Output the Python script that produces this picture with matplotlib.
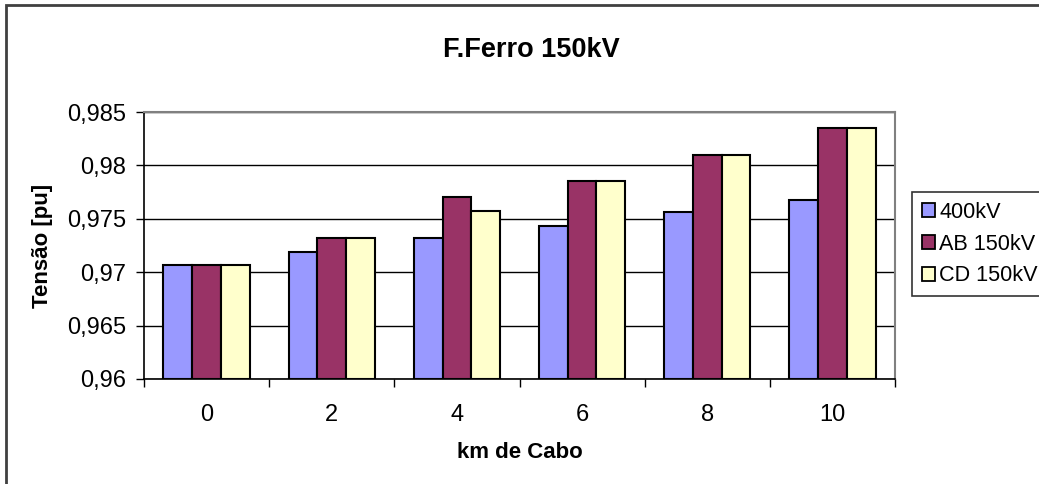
import numpy as np
import matplotlib
matplotlib.use("Agg")
import matplotlib.pyplot as plt
from matplotlib.patches import Rectangle
from matplotlib.ticker import FixedLocator, FuncFormatter, NullFormatter

plt.rcParams['font.family'] = ['Liberation Sans', 'DejaVu Sans']

km = ['0', '2', '4', '6', '8', '10']
v_400 = [0.9707, 0.9719, 0.9732, 0.9743, 0.9756, 0.9768]
v_ab = [0.9707, 0.9732, 0.9770, 0.9785, 0.9810, 0.9835]
v_cd = [0.9707, 0.9732, 0.9757, 0.9785, 0.9810, 0.9835]
series = ['400kV', 'AB 150kV', 'CD 150kV']
colors = ['#9999FF', '#993366', '#FFFFCC']

fig = plt.figure(figsize=(10.39, 4.84), dpi=100)
ax = fig.add_axes([144/1039, 1 - 379/484, 751/1039, 267/484])

x = np.arange(len(km)) + 0.5
w = 0.23
for k, (vals, name, c) in enumerate(zip([v_400, v_ab, v_cd], series, colors)):
    ax.bar(x + (k - 1) * w, np.array(vals) - 0.96, width=w, bottom=0.96,
           color=c, edgecolor='black', linewidth=1.5, label=name, zorder=3)

ax.set_xlim(0, len(km))
ax.set_ylim(0.96, 0.985)
ax.set_yticks(np.arange(0.96, 0.9851, 0.005))
ax.yaxis.set_major_formatter(FuncFormatter(lambda v, p: f"{round(v, 3):g}".replace('.', ',')))
ax.grid(axis='y', color='black', linewidth=1, zorder=0)

# category ticks at group boundaries, labels at group centres
ax.xaxis.set_major_locator(FixedLocator(np.arange(len(km) + 1)))
ax.xaxis.set_major_formatter(NullFormatter())
ax.xaxis.set_minor_locator(FixedLocator(x))
ax.set_xticklabels(km, minor=True)
ax.tick_params(axis='x', which='major', direction='out', length=6, width=1)
ax.tick_params(axis='x', which='minor', length=0, pad=18, labelsize=17)
ax.tick_params(axis='y', direction='out', length=6, width=1, pad=7, labelsize=17)

for s in ['top', 'right']:
    ax.spines[s].set_color('#808080')
    ax.spines[s].set_linewidth(1.5)
for s in ['left', 'bottom']:
    ax.spines[s].set_color('black')
    ax.spines[s].set_linewidth(1.2)

ax.set_xlabel('km de Cabo', fontsize=16, fontweight='bold')
ax.xaxis.set_label_coords(0.5, -0.277)
ax.xaxis.label.set_verticalalignment('center')
ax.set_ylabel('Tensão [pu]', fontsize=16, fontweight='bold')
ax.yaxis.set_label_coords(-0.135, 0.5)
ax.yaxis.label.set_verticalalignment('center')

fig.text(531/1039, 1 - 50/484, 'F.Ferro 150kV', fontsize=19.5, fontweight='bold',
         ha='center', va='center')

leg = ax.legend(loc='upper left', bbox_to_anchor=(912/1039, 1 - 192/484),
                bbox_transform=fig.transFigure, fontsize=15.6, frameon=True,
                fancybox=False, borderpad=0.45, labelspacing=0.5,
                handlelength=0.6, handleheight=0.6, handletextpad=0.2,
                borderaxespad=0)
leg.get_frame().set_edgecolor('black')
leg.get_frame().set_linewidth(1.2)
for h in leg.legend_handles:
    h.set_linewidth(1.3)

# outer chart frame
fig.add_artist(Rectangle((6/1039, -0.1), 1.2, 1.1 - 5/484, transform=fig.transFigure,
                         fill=False, edgecolor='#404040', linewidth=2))

fig.savefig('out.png', dpi=100)
